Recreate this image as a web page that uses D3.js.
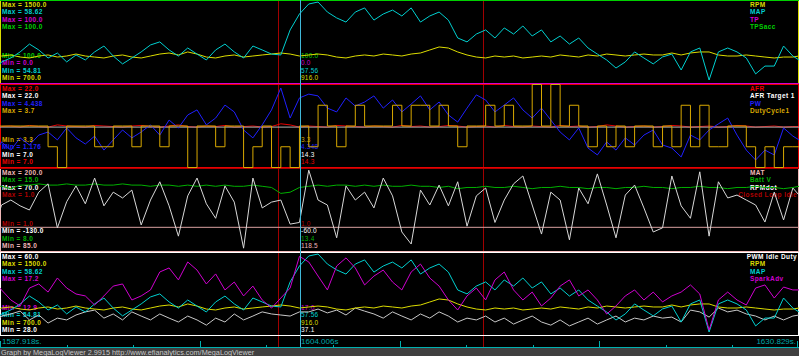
<!DOCTYPE html>
<html><head><meta charset="utf-8">
<script src="https://cdn.jsdelivr.net/npm/d3@7"></script>
<style>
html,body{margin:0;padding:0;background:#000;overflow:hidden}
svg{display:block}
text{font-family:"Liberation Sans",Arial,sans-serif}
</style></head><body>
<svg id="chart" width="799" height="356"></svg>
<script>
// ---------- DATA ----------
const times = [1587.918,1588.0,1588.5,1589.0,1589.5,1590.0,1590.5,1591.0,1591.5,1592.0,1592.5,1593.0,1593.5,1594.0,1594.5,1595.0,1595.5,1596.0,1596.5,1597.0,1597.5,1598.0,1598.5,1599.0,1599.5,1600.0,1600.5,1601.0,1601.5,1602.0,1602.5,1603.0,1603.5,1604.0,1604.5,1605.0,1605.5,1606.0,1606.5,1607.0,1607.5,1608.0,1608.5,1609.0,1609.5,1610.0,1610.5,1611.0,1611.5,1612.0,1612.5,1613.0,1613.5,1614.0,1614.5,1615.0,1615.5,1616.0,1616.5,1617.0,1617.5,1618.0,1618.5,1619.0,1619.5,1620.0,1620.5,1621.0,1621.5,1622.0,1622.5,1623.0,1623.5,1624.0,1624.5,1625.0,1625.5,1626.0,1626.5,1627.0,1627.5,1628.0,1628.5,1629.0,1629.5,1630.0,1630.5,1630.829];
const spanTimes = [1587.918, 1630.829];

const rpm = [955,965,975,955,946,965,975,955,965,984,965,955,946,965,975,955,946,965,984,994,975,1004,984,955,946,965,975,955,965,975,984,994,984,965,975,984,975,955,946,965,975,965,984,975,965,984,994,1023,1052,1042,1004,975,955,946,965,955,965,946,955,965,955,975,965,955,975,965,984,975,965,975,984,975,975,994,975,994,1004,1004,975,965,965,975,965,955,946,955,955,965];
const map = [55.70,55.80,55.98,56.26,56.62,56.35,55.98,56.21,55.80,56.12,55.89,56.26,56.53,56.07,55.71,55.98,56.26,56.58,56.72,56.35,56.07,56.44,56.16,55.89,56.35,56.62,56.26,55.98,56.53,56.35,56.16,56.12,57.27,58.00,58.46,58.55,58.09,57.82,57.63,58.09,58.28,57.72,58.00,58.18,57.91,58.28,57.63,57.91,58.09,57.72,56.90,56.72,57.08,57.27,56.90,57.36,57.08,57.45,56.99,57.27,56.72,56.99,56.62,56.90,56.44,56.16,55.89,55.52,55.80,56.26,55.98,55.71,56.03,56.16,55.43,56.26,56.44,54.97,56.26,56.44,56.26,55.98,55.25,55.61,55.61,56.53,56.07,55.89];
const tp = [0.0, 0.0];
const tpsAcc = [100.0, 100.0];

const afr = [14.4,14.4,14.5,14.3,14.6,14.4,14.3,14.7,14.5,14.4,14.3,14.6,14.5,14.4,14.3,14.5,14.6,14.4,14.3,14.5,14.7,14.4,14.3,14.5,14.4,14.6,14.3,14.4,14.5,14.3,14.4,14.9,14.7,14.3,14.5,14.4,14.3,14.6,14.5,14.4,14.3,14.5,14.4,14.3,14.6,14.4,14.5,14.3,14.4,14.6,14.5,14.3,14.4,14.5,14.3,14.6,14.4,14.3,14.5,14.4,14.3,14.6,14.4,14.5,14.3,14.4,14.7,14.5,14.3,14.4,14.5,14.3,14.4,14.6,14.5,14.3,14.4,14.5,14.3,14.4,14.6,14.5,14.3,14.4,14.5,14.3,14.4,14.4];
const afrTarget = [14.3, 14.3];
const pw = [2.06,2.18,1.86,2.34,2.06,2.45,2.57,2.26,2.73,2.34,2.10,2.41,1.86,2.26,2.65,2.34,2.57,2.85,2.45,3.04,2.73,3.24,3.44,2.85,3.12,3.63,3.36,2.65,2.34,2.85,3.44,4.30,3.12,3.91,4.06,3.99,3.51,3.36,3.91,3.59,3.75,3.99,3.51,3.83,3.36,3.67,3.99,3.44,3.75,3.24,2.96,3.51,4.03,3.83,3.36,3.63,3.91,3.44,3.12,3.51,3.04,2.57,2.26,2.73,1.94,1.67,2.18,1.86,2.34,2.06,2.45,2.65,2.06,1.94,1.59,2.45,2.26,2.65,2.89,3.12,2.45,1.86,1.47,1.86,1.67,2.73,2.41,2.26];
const dutyCycle = [3.5,3.5,3.5,3.5,3.5,3.5,3.4,3.3,3.5,3.5,3.5,3.4,3.4,3.5,3.5,3.4,3.5,3.5,3.4,3.5,3.5,3.3,3.5,3.5,3.4,3.5,3.5,3.3,3.4,3.5,3.3,3.4,3.3,3.5,3.4,3.6,3.5,3.4,3.5,3.6,3.5,3.5,3.5,3.6,3.5,3.6,3.6,3.5,3.6,3.5,3.4,3.5,3.5,3.6,3.5,3.6,3.5,3.5,3.7,3.5,3.7,3.5,3.6,3.5,3.4,3.5,3.4,3.5,3.4,3.5,3.5,3.4,3.5,3.4,3.6,3.4,3.6,3.4,3.4,3.5,3.5,3.4,3.3,3.4,3.3,3.4,3.4,3.4];

const mat = [118.5, 118.5];
const battV = [13.5,13.5,13.3,13.6,13.6,13.7,13.6,13.6,13.7,13.6,13.6,13.7,13.6,13.6,13.7,13.6,13.6,13.5,13.6,13.6,13.5,13.6,13.5,13.6,13.5,13.6,13.5,13.5,13.6,13.5,13.4,12.9,13.0,13.4,13.5,13.6,13.5,13.6,13.6,13.5,13.6,13.5,13.6,13.5,13.5,13.6,13.5,13.5,13.4,13.5,13.3,13.4,13.4,13.5,13.4,13.4,13.5,13.4,13.3,13.4,13.4,13.5,13.4,13.4,13.3,13.4,13.4,13.3,13.4,13.4,13.5,13.4,13.4,13.3,13.4,13.4,13.5,13.4,13.4,13.3,13.4,13.4,13.5,13.4,13.4,13.3,13.4,13.5];
const rpmDot = [-30,-18,-6,-20,-30,13,33,-73,-10,28,-15,47,-20,13,-1,18,-66,-6,38,-20,-93,4,47,-15,-50,28,-11,-122,47,-25,-11,-6,-64,-60,66,-6,-18,-97,28,-6,13,-25,47,4,-83,-112,18,-18,30,-20,38,-69,4,23,-60,-6,33,52,-18,-88,13,-6,-102,23,-15,57,-18,-97,6,30,-25,-83,-73,52,-20,-50,62,-93,38,-1,6,-6,-18,-59,13,-54,23,6];
const closedLoopIdle = [1.0, 1.0];

const pwmIdleDuty = [34.7,35.5,36.3,37.4,34.0,35.9,32.8,34.7,34.0,35.9,37.1,37.8,34.7,36.3,34.0,37.1,35.5,34.0,36.3,34.7,33.2,35.5,34.0,32.0,34.7,33.2,36.3,34.0,35.5,37.1,36.3,35.9,35.5,37.1,37.1,38.2,36.7,37.8,35.9,38.6,37.4,36.3,34.7,37.1,35.5,34.0,36.3,34.7,37.1,35.5,33.2,34.7,34.0,35.5,33.2,34.7,32.4,34.0,35.5,33.2,32.0,34.0,31.7,33.2,34.7,32.4,34.0,35.5,33.2,34.7,34.0,35.5,34.7,35.1,33.2,37.8,37.1,35.1,38.6,37.1,37.8,36.3,35.5,34.0,35.5,34.0,35.5,35.9];
const sparkAdv = [15.36,15.26,14.74,14.43,15.36,15.57,15.15,15.88,15.36,15.05,14.95,14.48,14.95,15.46,15.57,14.74,14.95,15.26,16.19,16.40,15.78,16.71,16.29,15.57,16.09,15.26,15.67,14.95,15.46,14.74,14.32,14.84,15.36,17.00,16.71,15.98,15.26,16.50,16.92,16.40,15.52,15.98,16.29,15.67,15.26,16.19,16.60,15.88,15.46,14.74,14.22,14.95,15.36,14.74,15.78,16.19,15.26,14.74,15.15,14.43,14.84,15.46,15.78,14.95,15.26,14.74,14.01,14.43,14.95,15.26,14.74,15.15,14.64,14.95,15.15,15.52,15.05,13.18,14.74,15.15,14.74,14.48,15.36,15.52,14.84,15.41,15.26,15.26];

// Per-panel labels
const panel1Names = ["RPM","MAP","TP","TPSacc"];
const panel1Max = ["1500.0","58.62","100.0","100.0"];
const panel1Min = ["700.0","54.81","0.0","100.0"];
const panel1Cursor = ["916.0","57.56","0.0","100.0"];

const panel2Names = ["AFR","AFR Target 1","PW","DutyCycle1"];
const panel2Max = ["22.0","22.0","4.438","3.7"];
const panel2Min = ["7.0","7.0","1.176","3.3"];
const panel2Cursor = ["14.3","14.3","4.348","3.3"];

const panel3Names = ["MAT","Batt V","RPMdot","Closed Loop Idle"];
const panel3Max = ["200.0","15.0","70.0","1.0"];
const panel3Min = ["85.0","8.0","-130.0","1.0"];
const panel3Cursor = ["118.5","13.4","-60.0","1.0"];

const panel4Names = ["PWM Idle Duty","RPM","MAP","SparkAdv"];
const panel4Max = ["60.0","1500.0","58.62","17.2"];
const panel4Min = ["28.0","700.0","54.81","12.9"];
const panel4Cursor = ["37.1","916.0","57.56","17.0"];

const cursorTime = 1604.006;
const markerTimes = [1602.87, 1613.88];
const timeLabels = ["1587.918s.", "1604.006s", "1630.829s."];
const footerText = "Graph by MegaLogViewer 2.9915 http://www.efianalytics.com/MegaLogViewer";

// ---------- STYLE / LAYOUT ----------
const C = {yellow:"#dcdc00", cyan:"#00d0d0", magenta:"#d000d0", green:"#00d000",
  red:"#e80000", white:"#ffffff", blue:"#2020ff", orange:"#d8a800", pink:"#f0b8b8",
  batt:"#00b000", darkred:"#b00000"};

const panels = [
  {names:panel1Names, max:panel1Max, min:panel1Min, cur:panel1Cursor, border:C.yellow,
   colors:[C.yellow,C.cyan,C.magenta,C.green], lineColors:[C.yellow,C.cyan,C.magenta,C.green],
   series:[rpm,map,tp,tpsAcc], t:[times,times,spanTimes,spanTimes], step:[0,0,0,0]},
  {names:panel2Names, max:panel2Max, min:panel2Min, cur:panel2Cursor, border:C.red,
   colors:[C.red,C.white,C.blue,C.orange], lineColors:[C.red,"#b4b4b4",C.blue,C.orange],
   series:[afr,afrTarget,pw,dutyCycle], t:[times,spanTimes,times,times], step:[0,0,0,1]},
  {names:panel3Names, max:panel3Max, min:panel3Min, cur:panel3Cursor, border:C.pink,
   colors:[C.pink,C.batt,C.white,C.darkred], lineColors:["#d8a0a0",C.batt,"#d8d8d8",C.darkred],
   series:[mat,battV,rpmDot,closedLoopIdle], t:[spanTimes,times,times,spanTimes], step:[0,0,0,0]},
  {names:panel4Names, max:panel4Max, min:panel4Min, cur:panel4Cursor, border:C.white,
   colors:[C.white,C.yellow,C.cyan,C.magenta], lineColors:["#c8c8c8",C.yellow,C.cyan,C.magenta],
   series:[pwmIdleDuty,rpm,map,sparkAdv], t:[times,times,times,times], step:[0,0,0,0]}
];

const W = 799, H = 356, PH = 84;
const svg = d3.select("#chart");
svg.append("rect").attr("width",W).attr("height",H).attr("fill","#000");

const x = d3.scaleLinear().domain([times[0], times[times.length-1]]).range([0, W]);

// marker lines (behind traces)
svg.selectAll("line.marker").data(markerTimes).enter().append("line")
  .attr("x1",d=>Math.round(x(d))+0.5).attr("x2",d=>Math.round(x(d))+0.5)
  .attr("y1",0).attr("y2",348).attr("stroke","#a00000").attr("stroke-width",1);

const labelStyle = "font-size:6.5px;font-weight:bold;letter-spacing:0.4px";
const curStyle = "font-size:6.5px;letter-spacing:0.2px";

panels.forEach((p, pi) => {
  const top = pi*PH;
  const g = svg.append("g");
  g.append("rect").attr("x",0.5).attr("y",top+0.5).attr("width",W-1).attr("height",PH-1)
    .attr("fill","none").attr("stroke",p.border).attr("stroke-width",1).attr("shape-rendering","crispEdges");

  const n = p.names.length;
  // Max labels
  p.names.forEach((nm,i)=>{
    g.append("text").attr("x",2).attr("y",top+7+i*7.4).attr("fill",p.colors[i])
      .attr("style",labelStyle).text("Max = "+p.max[i]);
  });
  // Min labels and cursor values (reverse order)
  for (let k=0;k<n;k++){
    const i = n-1-k;
    g.append("text").attr("x",2).attr("y",top+58+k*7.35).attr("fill",p.colors[i])
      .attr("style",labelStyle).text("Min = "+p.min[i]);
    g.append("text").attr("x",x(cursorTime)+1.5).attr("y",top+58+k*7.35).attr("fill",p.colors[i])
      .attr("style",curStyle).text(p.cur[i]);
  }
  // Legend
  p.names.forEach((nm,i)=>{
    const t = g.append("text").attr("y",top+7+i*7.4).attr("fill",p.colors[i])
      .attr("style",labelStyle).text(nm);
    const w = t.node().getComputedTextLength();
    t.attr("x", Math.min(750, 797 - w));
  });
  // traces
  p.names.forEach((nm,i)=>{
    const lo = +p.min[i], hi = +p.max[i];
    const y = d3.scaleLinear().domain(lo===hi?[lo-1,hi]:[lo,hi]).range([top+PH-0.5, top+0.5]);
    const pts = p.t[i].map((tt,j)=>[tt, p.series[i][j]]);
    const line = d3.line().x(d=>x(d[0])).y(d=>y(d[1])).curve(p.step[i]?d3.curveStepAfter:d3.curveLinear);
    g.append("path").attr("d",line(pts)).attr("fill","none")
      .attr("stroke",p.lineColors[i]).attr("stroke-width",1);
  });
});

// cursor line
svg.append("line").attr("x1",Math.round(x(cursorTime))+0.5).attr("x2",Math.round(x(cursorTime))+0.5)
  .attr("y1",0).attr("y2",348).attr("stroke","#40b8d8").attr("stroke-width",1);

// timeline
const tl = svg.append("g");
tl.append("line").attr("x1",0).attr("x2",W).attr("y1",347.5).attr("y2",347.5).attr("stroke","#00b0b0");
const tickIdx = d3.range(0,13);
tl.selectAll("line.tick").data(tickIdx).enter().append("line")
  .attr("x1",k=>Math.min(W-1.5, Math.round(k*W/12)+0.5)).attr("x2",k=>Math.min(W-1.5, Math.round(k*W/12)+0.5))
  .attr("y1",k=>k%3===0?341:344.5).attr("y2",347.5).attr("stroke","#00b0b0").attr("shape-rendering","crispEdges");
const tlStyle = "font-size:8px";
tl.append("text").attr("x",2).attr("y",344).attr("fill","#00a8a8").attr("style",tlStyle).text(timeLabels[0]);
tl.append("text").attr("x",x(cursorTime)+1.5).attr("y",344).attr("fill","#00a8a8").attr("style",tlStyle).text(timeLabels[1]);
tl.append("text").attr("x",796).attr("y",344).attr("text-anchor","end").attr("fill","#00a8a8").attr("style",tlStyle).text(timeLabels[2]);

// footer
svg.append("rect").attr("x",0).attr("y",348).attr("width",W).attr("height",8).attr("fill","#404040");
svg.append("text").attr("x",1).attr("y",355.3).attr("fill","#c8c8c8").attr("style","font-size:7.3px").text(footerText);
</script>
</body></html>
